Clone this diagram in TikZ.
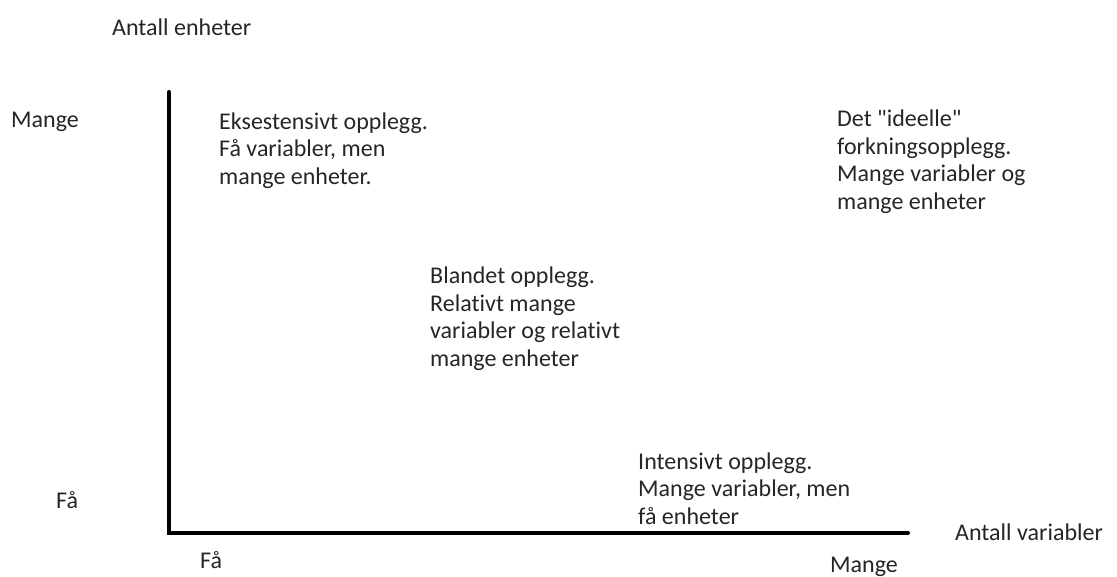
\documentclass[tikz,border=0pt]{standalone}
\usepackage{fontspec}
\setmainfont{Carlito}[Ligatures={NoCommon,TeXOff}]
\begin{document}
\begin{tikzpicture}[x=1pt,y=-1pt,
  lbl/.style={inner sep=0pt,anchor=base west,font=\fontsize{24}{27.5}\selectfont,text=black!85},
  blk/.style={lbl,align=left},
  axis/.style={line width=4pt,line cap=round,black}]
  \useasboundingbox[fill=white] (0,0) rectangle (1117,576);
  % axes
  \coordinate (origin) at (169,533);
  \coordinate (ytop) at (169,92);
  \coordinate (xend) at (908,533);
  \draw[axis] (ytop) -- (origin) -- (xend);
  % axis titles and tick words
  \node[lbl] (ytitle) at (112,35) {Antall enheter};
  \node[lbl] (xtitle) at (955,540) {Antall variabler};
  \node[lbl] (ymany) at (11,127) {Mange};
  \node[lbl] (yfew) at (56,508) {Få};
  \node[lbl] (xfew) at (200,568) {Få};
  \node[lbl] (xmany) at (830,572) {Mange};
  % quadrant descriptions (anchored at the baseline of their last line)
  \node[blk] (ext) at (219,184) {Eksestensivt opplegg.\\Få variabler, men\\mange enheter.};
  \node[blk] (ideal) at (837,209) {Det "ideelle"\\forkningsopplegg.\\Mange variabler og\\mange enheter};
  \node[blk] (mixed) at (430,366) {Blandet opplegg.\\Relativt mange\\variabler og relativt\\mange enheter};
  \node[blk] (int) at (638,524) {Intensivt opplegg.\\Mange variabler, men\\få enheter};
\end{tikzpicture}
\end{document}
